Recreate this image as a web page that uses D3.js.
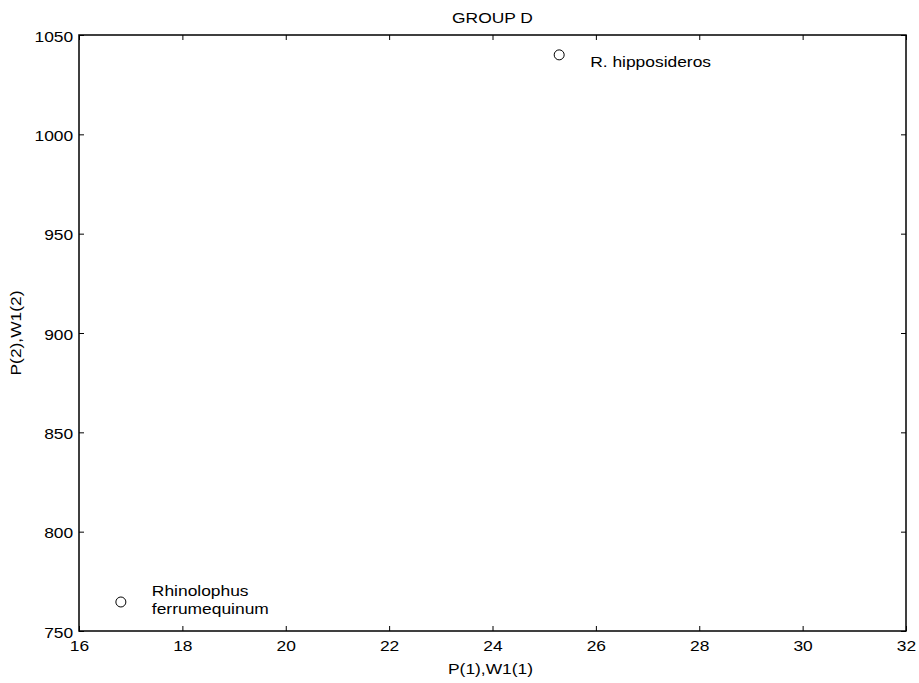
<!DOCTYPE html>
<html lang="en">
<head>
<meta charset="UTF-8">
<script src="https://cdn.jsdelivr.net/npm/d3@7"></script>
<style>
  body { margin: 0; background: #fff; }
  text { font-family: "Liberation Sans", Arial, sans-serif; font-size: 15px; fill: #000; }
</style>
</head>
<body>
<script>
  // species points
  var names = [["Rhinolophus", "ferrumequinum"], ["R. hipposideros"]];
  var xVals = [16.81, 25.29];
  var yVals = [764.6, 1040];
  var xTicks = [16, 18, 20, 22, 24, 26, 28, 30, 32];
  var yTicks = [750, 800, 850, 900, 950, 1000, 1050];

  var width = 919, height = 683;
  var margin = {top: 35, right: 13, bottom: 52, left: 79};
  var w = width - margin.left - margin.right,
      h = height - margin.top - margin.bottom;
  var sx = 1.16; // text in the picture is a bit stretched sideways

  var svg = d3.select('body').append('svg')
    .attr('width', width)
    .attr('height', height);

  var g = svg.append('g')
    .attr('transform', 'translate(' + margin.left + ',' + margin.top + ')');

  var x = d3.scaleLinear().domain([16, 32]).range([0, w]);
  var y = d3.scaleLinear().domain([750, 1050]).range([h, 0]);

  function styleAxis(sel) {
    sel.select('.domain').remove();
    sel.selectAll('line').attr('stroke', '#000');
    sel.selectAll('text').style('font-size', '15px').attr('transform', 'scale(' + sx + ',1)');
  }

  function label(sel, tx, ty, rot) {
    return sel.append('text')
      .attr('transform', 'translate(' + tx + ',' + ty + ')' + (rot ? ' rotate(' + rot + ')' : '') + ' scale(' + sx + ',1)');
  }

  // bottom and left axes with labels, ticks pointing inward
  g.append('g').attr('transform', 'translate(0,' + h + ')')
    .call(d3.axisBottom(x).tickValues(xTicks).tickSize(-5).tickPadding(9).tickFormat(d3.format('d')))
    .call(styleAxis);
  g.append('g')
    .call(d3.axisLeft(y).tickValues(yTicks).tickSize(-5).tickPadding(5).tickFormat(d3.format('d')))
    .call(styleAxis)
    .selectAll('text').attr('dy', '0.4em');
  // top and right ticks, no labels
  g.append('g')
    .call(d3.axisTop(x).tickValues(xTicks).tickSize(-5).tickFormat(''))
    .call(styleAxis);
  g.append('g').attr('transform', 'translate(' + w + ',0)')
    .call(d3.axisRight(y).tickValues(yTicks).tickSize(-5).tickFormat(''))
    .call(styleAxis);

  g.append('rect')
    .attr('width', w).attr('height', h)
    .attr('fill', 'none').attr('stroke', '#000').attr('stroke-width', 1.5);

  var pts = g.selectAll('.pt')
    .data(xVals.map(function(d, i) { return {x: d, y: yVals[i], name: names[i]}; }))
    .enter().append('g');

  pts.append('circle')
    .attr('cx', function(d) { return x(d.x); })
    .attr('cy', function(d) { return y(d.y); })
    .attr('r', 5)
    .attr('fill', 'none').attr('stroke', '#000');

  pts.each(function(d) {
    var t = label(d3.select(this), x(d.x) + 31, y(d.y) + (d.name.length > 1 ? -6 : 12.5));
    t.selectAll('tspan')
      .data(d.name)
      .enter().append('tspan')
      .attr('x', 0)
      .attr('dy', function(s, i) { return i ? 18.3 : 0; })
      .text(function(s) { return s; });
  });

  label(svg, margin.left + w / 2, 23).attr('text-anchor', 'middle').text('GROUP D');
  label(svg, margin.left + w / 2 - 2, 674).attr('text-anchor', 'middle').text('P(1),W1(1)');
  label(svg, 21, margin.top + h / 2, -90).attr('text-anchor', 'middle').text('P(2),W1(2)');
</script>
</body>
</html>
